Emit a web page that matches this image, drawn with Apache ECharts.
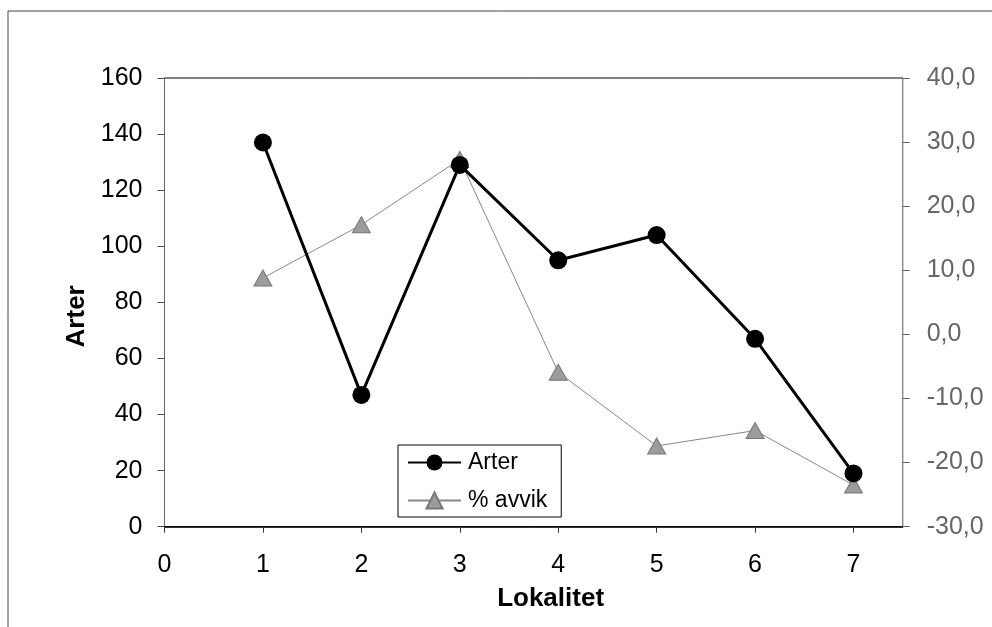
<!DOCTYPE html>
<html>
<head>
<meta charset="utf-8">
<script src="https://cdn.jsdelivr.net/npm/echarts@6/dist/echarts.min.js"></script>
<style>
  html, body { margin: 0; padding: 0; background: #fff; }
  #charts { width: 992px; height: 627px; }
</style>
</head>
<body>
<div id="charts"></div>
<script>
    var lokalitet = [1, 2, 3, 4, 5, 6, 7];
    var arter = [137, 47, 129, 95, 104, 67, 19];
    var avvik = [8.8, 17.1, 27.3, -5.9, -17.4, -15.0, -23.5];

    function pairs(xs, ys) {
        var out = [];
        for (var i = 0; i < xs.length; i++) {
            out.push([xs[i], ys[i]]);
        }
        return out;
    }

    var myChart = echarts.init(document.getElementById('charts'));
    var font = 'Liberation Sans, Arial, sans-serif';

    myChart.setOption({
        animation: false,
        backgroundColor: '#fff',
        textStyle: { fontFamily: font },
        graphic: [{
            type: 'rect',
            shape: { x: 8, y: 11, width: 1000, height: 700 },
            style: { fill: 'none', stroke: '#444', lineWidth: 1 },
            silent: true
        }],
        grid: {
            left: 164.5, top: 78, right: 89.3, bottom: 100.3,
            show: true, borderColor: '#000', borderWidth: 1
        },
        legend: {
            orient: 'vertical',
            left: 398, top: 445,
            padding: [6, 14, 5, 9],
            itemGap: 15,
            itemWidth: 53, itemHeight: 20,
            borderColor: '#000', borderWidth: 1,
            backgroundColor: '#fff',
            textStyle: { fontSize: 23, color: '#000', fontFamily: font, padding: [0, 0, 0, 2] },
            data: ['Arter', '% avvik']
        },
        xAxis: {
            type: 'value',
            min: 0, max: 7.5, interval: 1,
            name: 'Lokalitet',
            nameLocation: 'middle',
            nameGap: 59,
            nameTextStyle: { fontSize: 26, fontWeight: 'bold', color: '#000', padding: [0, 0, 0, 34] },
            axisLine: { lineStyle: { color: '#000', width: 1.5 } },
            axisTick: { length: 6, lineStyle: { color: '#333' } },
            axisLabel: {
                fontSize: 25, color: '#000', margin: 26,
                showMaxLabel: false,
                formatter: function (v) { return v === 7.5 ? '' : String(v); }
            },
            splitLine: { show: false }
        },
        yAxis: [{
            type: 'value',
            min: 0, max: 160, interval: 20,
            name: 'Arter',
            nameLocation: 'middle',
            nameGap: 68,
            nameRotate: 90,
            nameTextStyle: { fontSize: 26, fontWeight: 'bold', color: '#000', padding: [0, 28, 0, 0] },
            axisLine: { show: true, lineStyle: { color: '#666', width: 1 } },
            axisTick: { show: true, length: 7, lineStyle: { color: '#444' } },
            axisLabel: { fontSize: 25, color: '#000', margin: 22 },
            splitLine: { show: false }
        }, {
            type: 'value',
            position: 'right',
            min: -30, max: 40, interval: 10,
            axisLine: { show: true, lineStyle: { color: '#888', width: 1 } },
            axisTick: { show: true, length: 7, lineStyle: { color: '#666' } },
            axisLabel: {
                fontSize: 25, color: '#666', margin: 24,
                formatter: function (v) { return v.toFixed(1).replace('.', ','); }
            },
            splitLine: { show: false }
        }],
        series: [{
            name: '% avvik',
            type: 'line',
            yAxisIndex: 1,
            data: pairs(lokalitet, avvik),
            symbol: 'triangle',
            symbolSize: [18, 16],
            lineStyle: { color: '#888', width: 1 },
            itemStyle: { color: '#9c9c9c', borderColor: '#777', borderWidth: 1 },
            z: 2
        }, {
            name: 'Arter',
            type: 'line',
            yAxisIndex: 0,
            data: pairs(lokalitet, arter),
            symbol: 'circle',
            symbolSize: 18,
            lineStyle: { color: '#000', width: 3 },
            itemStyle: { color: '#000' },
            z: 3
        }]
    });
</script>
</body>
</html>
